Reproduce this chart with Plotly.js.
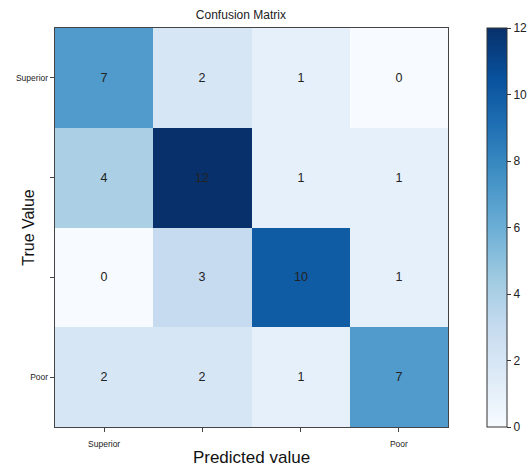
<!DOCTYPE html>
<html><head><meta charset="utf-8">
<script src="https://cdn.plot.ly/plotly-3.0.1.min.js"></script>
<style>html,body{margin:0;padding:0;background:#fff}#c{width:531px;height:469px}</style>
</head><body><div id="c"></div>
<script>
const labels = ["Superior", "", "", "Poor"];
const matrix = [
  [7, 2, 1, 0],
  [4, 12, 1, 1],
  [0, 3, 10, 1],
  [2, 2, 1, 7]
];
const blues = [
  [0.0, '#f7fbff'], [0.125, '#deebf7'], [0.25, '#c6dbef'], [0.375, '#9ecae1'],
  [0.5, '#6baed6'], [0.625, '#4292c6'], [0.75, '#2171b5'], [0.875, '#08519c'], [1.0, '#08306b']
];
const idx = [0, 1, 2, 3];
const font = 'Liberation Sans, Arial, sans-serif';
const trace = {
  type: 'heatmap', x: idx, y: idx, z: matrix,
  zmin: 0, zmax: 12, colorscale: blues,
  text: matrix.map(r => r.map(String)), texttemplate: '%{text}',
  textfont: {size: 12.5, color: '#222', family: font},
  hoverinfo: 'none',
  colorbar: {
    x: 1.099, xanchor: 'left', xref: 'paper', y: 0.5, yanchor: 'middle', len: 1, lenmode: 'fraction',
    thickness: 20, outlinewidth: 1, outlinecolor: '#333', xpad: 0, ypad: 0,
    tickvals: [0, 2, 4, 6, 8, 10, 12], ticks: 'outside', ticklen: 4, tickcolor: '#333',
    tickfont: {size: 12, color: '#222', family: font}
  }
};
const layout = {
  width: 531, height: 469,
  margin: {l: 55, r: 83, t: 28, b: 42, autoexpand: false},
  paper_bgcolor: '#fff', plot_bgcolor: '#fff',
  font: {family: font, color: '#222'},
  title: {text: 'Confusion Matrix', font: {size: 12, color: '#222'}, x: 0.473, xref: 'paper', xanchor: 'center', y: 0.968, yref: 'container', yanchor: 'middle'},
  xaxis: {
    tickvals: idx, ticktext: labels, range: [-0.5, 3.5],
    showline: true, mirror: true, linecolor: '#444', linewidth: 1.2,
    ticks: 'outside', ticklen: 4, tickcolor: '#444', tickfont: {size: 8.5, color: '#222'},
    ticklabelstandoff: 5,
    showgrid: false, zeroline: false,
    title: {text: 'Predicted value', font: {size: 17, color: '#111'}, standoff: 2}
  },
  yaxis: {
    tickvals: idx, ticktext: labels, range: [3.5, -0.5],
    showline: true, mirror: true, linecolor: '#444', linewidth: 1.2,
    ticks: 'outside', ticklen: 4, tickcolor: '#444', tickfont: {size: 8.5, color: '#222'},
    showgrid: false, zeroline: false
  },
  annotations: [{
    text: 'True Value', textangle: -90, showarrow: false,
    xref: 'paper', yref: 'paper', x: -0.068, y: 0.5, xanchor: 'center', yanchor: 'middle',
    font: {size: 16, color: '#111', family: font}
  }]
};
Plotly.newPlot('c', [trace], layout, {displayModeBar: false, staticPlot: true});
</script></body></html>
